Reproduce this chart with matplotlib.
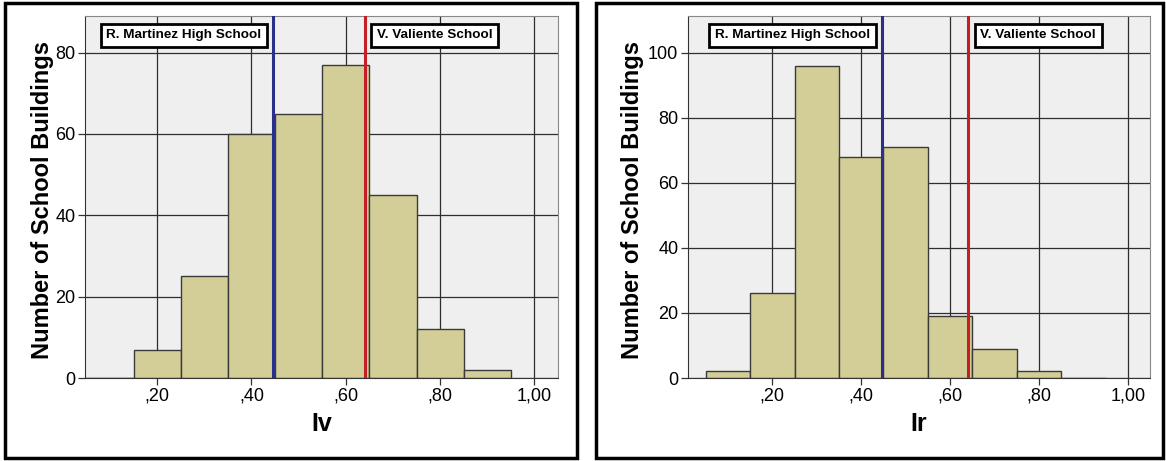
import matplotlib
matplotlib.use("Agg")
import matplotlib.pyplot as plt
from matplotlib.patches import Rectangle
import numpy as np

plt.rcParams['font.family'] = ['Liberation Sans', 'DejaVu Sans']

bin_left = [0.05, 0.15, 0.25, 0.35, 0.45, 0.55, 0.65, 0.75, 0.85]
bin_width = 0.1
iv_counts = [0, 7, 25, 60, 65, 77, 45, 12, 2]
ir_counts = [2, 26, 96, 68, 71, 19, 9, 2, 0]
x_ticks = [0.2, 0.4, 0.6, 0.8, 1.0]
x_ticklabels = [',20', ',40', ',60', ',80', '1,00']
martinez_x = 0.446
valiente_x = 0.64
label_martinez = 'R. Martinez High School'
label_valiente = 'V. Valiente School'
ylabel = 'Number of School Buildings'

W, H = 1166, 461
fig = plt.figure(figsize=(W / 100, H / 100), dpi=100)

panels = [
    dict(counts=iv_counts, xlabel='Iv', yticks=[0, 20, 40, 60, 80], ylim=89,
         xlim=(0.047, 1.05), ax_px=(85, 16, 558, 378), frame=(5, 3, 577, 458), ylab_x=42),
    dict(counts=ir_counts, xlabel='Ir', yticks=[0, 20, 40, 60, 80, 100], ylim=111.3,
         xlim=(0.01, 1.05), ax_px=(688, 16, 1150, 378), frame=(596, 3, 1163, 458), ylab_x=633),
]

for p in panels:
    fx0, fy0, fx1, fy1 = p['frame']
    fig.patches.append(Rectangle((fx0 / W, 1 - fy1 / H), (fx1 - fx0) / W, (fy1 - fy0) / H,
                                 transform=fig.transFigure, fill=False,
                                 edgecolor='black', linewidth=2.5, zorder=0))
    x0, y0, x1, y1 = p['ax_px']
    ax = fig.add_axes([x0 / W, 1 - y1 / H, (x1 - x0) / W, (y1 - y0) / H])
    ax.set_facecolor('#efefef')
    ax.bar(bin_left, p['counts'], width=bin_width, align='edge',
           color='#d3ce97', edgecolor='#3a3a3a', linewidth=1.0, zorder=2)
    ax.set_xlim(*p['xlim'])
    ax.set_ylim(0, p['ylim'])
    ax.set_xticks(x_ticks)
    ax.set_xticklabels(x_ticklabels, fontsize=13)
    ax.set_yticks(p['yticks'])
    ax.set_yticklabels([str(v) for v in p['yticks']], fontsize=13)
    ax.grid(True, color='#2e2e2e', linewidth=0.9, zorder=1)
    ax.set_axisbelow(True)
    ax.tick_params(axis='both', length=5, width=0.9, color='#333333', pad=2)
    for s in ['top', 'right']:
        ax.spines[s].set_color('#888888')
    for s in ['left', 'bottom']:
        ax.spines[s].set_color('#333333')
    ax.axvline(martinez_x, color='#2a2f8c', linewidth=2.2, zorder=4)
    ax.axvline(valiente_x, color='#c41e26', linewidth=2.2, zorder=4)
    bbox = dict(boxstyle='square,pad=0.42', facecolor='white', edgecolor='black', linewidth=2.0)
    ax.annotate(label_martinez, xy=(martinez_x, 0.947), xycoords=('data', 'axes fraction'),
                xytext=(-8.5, 0), textcoords='offset points',
                ha='right', va='center', fontsize=9.7, fontweight='bold', bbox=bbox, zorder=5)
    ax.annotate(label_valiente, xy=(valiente_x, 0.947), xycoords=('data', 'axes fraction'),
                xytext=(9, 0), textcoords='offset points',
                ha='left', va='center', fontsize=9.7, fontweight='bold', bbox=bbox, zorder=5)
    ax.set_xlabel(p['xlabel'], fontsize=18, fontweight='bold', labelpad=5)
    fig.text(p['ylab_x'] / W, 1 - ((y0 + y1) / 2 + 3) / H, ylabel, rotation=90,
             ha='center', va='center', fontsize=17, fontweight='bold')

fig.savefig('out.png', dpi=100)
